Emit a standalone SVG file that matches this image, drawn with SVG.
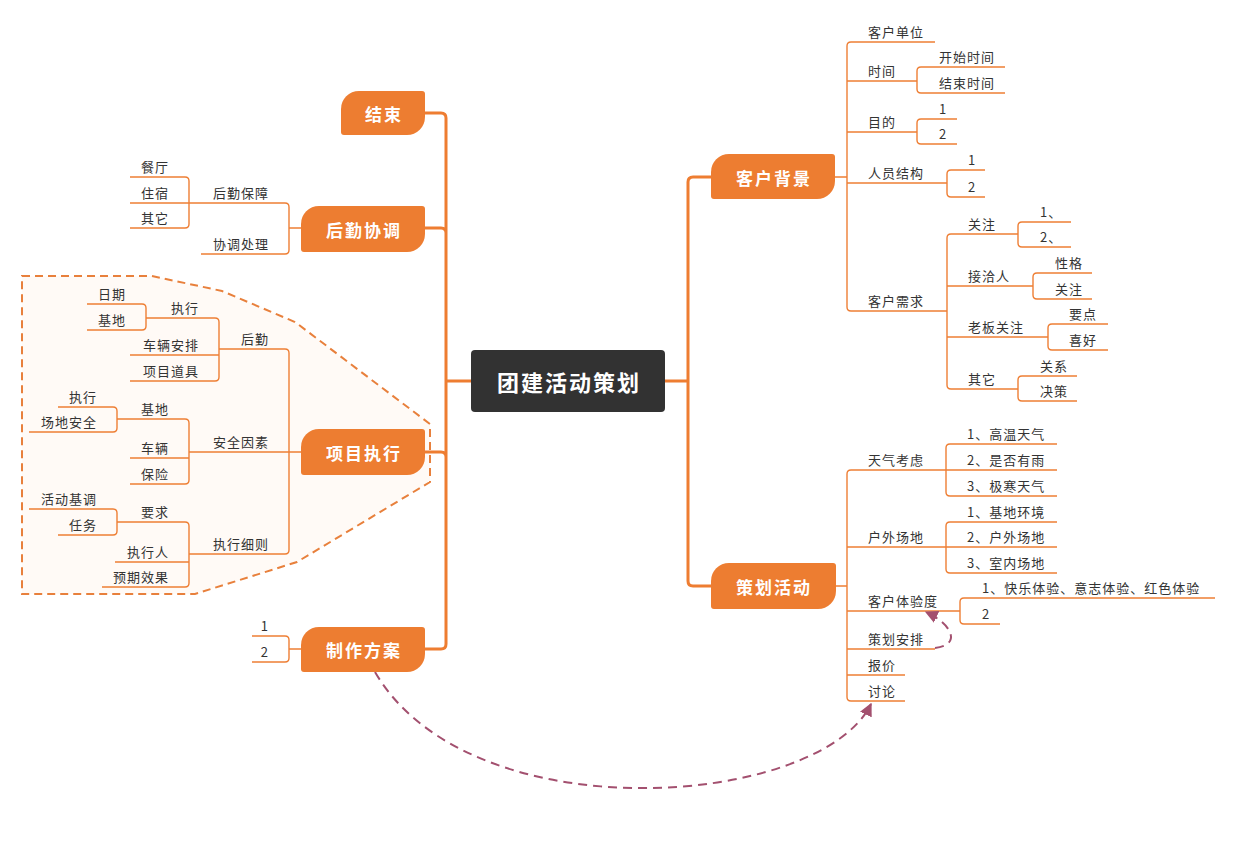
<svg xmlns="http://www.w3.org/2000/svg" width="1235" height="855" viewBox="0 0 1235 855">
<style>
.t{font-family:"Noto Sans CJK SC","Noto Sans",sans-serif;font-size:13px;fill:#333;letter-spacing:1px}
.e{text-anchor:end}
.nt{font-family:"Noto Sans CJK SC","Noto Sans",sans-serif;font-size:17px;font-weight:bold;fill:#fff;text-anchor:middle;letter-spacing:2px;dominant-baseline:central}
.ct{font-size:22px;letter-spacing:2px}
.node{fill:#ED7D31}
.ln{fill:none;stroke:#EE7F35;stroke-width:1.4}
.tr{fill:none;stroke:#EE7D31;stroke-width:3}
.rel{fill:none;stroke:#A3506F;stroke-width:2;stroke-dasharray:9 6}
</style>
<defs>
<marker id="ah" viewBox="0 0 10 10" refX="9" refY="5" markerWidth="13" markerHeight="13" markerUnits="userSpaceOnUse" orient="auto">
<path d="M0,0 L10,5 L0,10 z" fill="#A3506F"/>
</marker>
</defs>
<rect width="1235" height="855" fill="#fff"/>
<polygon id="boundary" points="22,276 152,276 222,291 295,322 430,424 430,482 297,562 195,594 22,594" fill="#FFFAF6" stroke="#E8803C" stroke-width="2" stroke-dasharray="8 5"/>
<g id="connectors">
<path class="tr" d="M425,113 H441 Q446,113 446,118 V644 Q446,649 441,649 H425 M425,228 H441 Q446,228 446,233 M425,452 H441 Q446,452 446,457 M471,381 H446"/>
<path class="tr" d="M711,177 H693 Q688,177 688,182 V581 Q688,586 693,586 H711 M665,381 H688"/>
<path class="ln" d="M935,42 H851 Q847,42 847,46 V307 Q847,311 851,311 H947 M847,81 H917 M847,132 H917 M847,183 H947 M835,177 H847"/>
<path class="ln" d="M1005,67 H921 Q917,67 917,71 V89 Q917,93 921,93 H1005"/>
<path class="ln" d="M957,119 H921 Q917,119 917,123 V140 Q917,144 921,144 H957"/>
<path class="ln" d="M985,170 H951 Q947,170 947,174 V193 Q947,197 951,197 H985"/>
<path class="ln" d="M1018,234 H951 Q947,234 947,238 V385 Q947,389 951,389 H1018 M947,286 H1033 M947,337 H1048"/>
<path class="ln" d="M1071,222 H1022 Q1018,222 1018,226 V243 Q1018,247 1022,247 H1071"/>
<path class="ln" d="M1092,273 H1037 Q1033,273 1033,277 V295 Q1033,299 1037,299 H1092"/>
<path class="ln" d="M1108,324 H1052 Q1048,324 1048,328 V346 Q1048,350 1052,350 H1108"/>
<path class="ln" d="M1077,376 H1022 Q1018,376 1018,380 V397 Q1018,401 1022,401 H1077"/>
<path class="ln" d="M946,470 H851 Q847,470 847,474 V697 Q847,701 851,701 H905 M847,547 H946 M847,611 H960 M847,649 H935 M847,675 H905 M836,586 H847"/>
<path class="ln" d="M1057,444 H950 Q946,444 946,448 V492 Q946,496 950,496 H1057 M946,470 H1057"/>
<path class="ln" d="M1057,522 H950 Q946,522 946,526 V569 Q946,573 950,573 H1057 M946,547 H1057"/>
<path class="ln" d="M1215,598 H964 Q960,598 960,602 V620 Q960,624 964,624 H1000"/>
<path class="ln" d="M189,203 H285 Q289,203 289,207 V250 Q289,254 285,254 H201 M301,228 H289"/>
<path class="ln" d="M130,177 H185 Q189,177 189,181 V224 Q189,228 185,228 H130 M130,203 H189"/>
<path class="ln" d="M219,349 H285 Q289,349 289,353 V550 Q289,554 285,554 H189 M189,452 H301"/>
<path class="ln" d="M146,318 H215 Q219,318 219,322 V377 Q219,381 215,381 H130 M130,355 H219"/>
<path class="ln" d="M87,304 H142 Q146,304 146,308 V326 Q146,330 142,330 H87"/>
<path class="ln" d="M117,419 H185 Q189,419 189,423 V480 Q189,484 185,484 H130 M130,458 H189"/>
<path class="ln" d="M58,407 H113 Q117,407 117,411 V428 Q117,432 113,432 H29"/>
<path class="ln" d="M117,522 H185 Q189,522 189,526 V583 Q189,587 185,587 H102 M115,562 H189"/>
<path class="ln" d="M29,509 H113 Q117,509 117,513 V531 Q117,535 113,535 H58"/>
<path class="ln" d="M252,636 H285 Q289,636 289,640 V658 Q289,662 285,662 H252 M289,649 H301"/>
<path class="rel" d="M935,648 C962,645 952,624 926,612" marker-end="url(#ah)"/>
<path class="rel" d="M375,672 C470,835 820,808 871,704" marker-end="url(#ah)"/>
</g>
<g id="center"><rect x="471" y="350" width="194" height="62" rx="4" fill="#323232"/><text class="nt ct" x="569" y="381">团建活动策划</text></g>
<g id="jieshu"><path class="node" d="M359,91 H422 A3 3 0 0 1 425,94 V117 A18 18 0 0 1 407,135 H344 A3 3 0 0 1 341,132 V109 A18 18 0 0 1 359,91 Z"/><text class="nt" x="384" y="113">结束</text></g>
<g id="houqinxietiao"><path class="node" d="M319,206 H422 A3 3 0 0 1 425,209 V234 A18 18 0 0 1 407,252 H304 A3 3 0 0 1 301,249 V224 A18 18 0 0 1 319,206 Z"/><text class="nt" x="364" y="229">后勤协调</text></g>
<g id="xiangmuzhixing"><path class="node" d="M319,429 H422 A3 3 0 0 1 425,432 V457 A18 18 0 0 1 407,475 H304 A3 3 0 0 1 301,472 V447 A18 18 0 0 1 319,429 Z"/><text class="nt" x="364" y="452">项目执行</text></g>
<g id="zhizuofangan"><path class="node" d="M319,627 H422 A3 3 0 0 1 425,630 V654 A18 18 0 0 1 407,672 H304 A3 3 0 0 1 301,669 V645 A18 18 0 0 1 319,627 Z"/><text class="nt" x="364" y="649">制作方案</text></g>
<g id="kehubeijing"><path class="node" d="M729,154 H832 A3 3 0 0 1 835,157 V181 A18 18 0 0 1 817,199 H714 A3 3 0 0 1 711,196 V172 A18 18 0 0 1 729,154 Z"/><text class="nt" x="774" y="177">客户背景</text></g>
<g id="cehuahuodong"><path class="node" d="M729,563 H833 A3 3 0 0 1 836,566 V591 A18 18 0 0 1 818,609 H714 A3 3 0 0 1 711,606 V581 A18 18 0 0 1 729,563 Z"/><text class="nt" x="774" y="586">策划活动</text></g>
<g id="right-topics">
<g id="r1"><text class="t" x="868" y="37">客户单位</text></g>
<g id="r2"><text class="t" x="868" y="76">时间</text></g>
<g id="r3"><text class="t" x="939" y="62">开始时间</text></g>
<g id="r4"><text class="t" x="939" y="88">结束时间</text></g>
<g id="r5"><text class="t" x="868" y="127">目的</text></g>
<g id="r6"><text class="t" x="939" y="114">1</text></g>
<g id="r7"><text class="t" x="939" y="139">2</text></g>
<g id="r8"><text class="t" x="868" y="178">人员结构</text></g>
<g id="r9"><text class="t" x="968" y="165">1</text></g>
<g id="r10"><text class="t" x="968" y="192">2</text></g>
<g id="r11"><text class="t" x="868" y="306">客户需求</text></g>
<g id="r12"><text class="t" x="968" y="229">关注</text></g>
<g id="r13"><text class="t" x="1040" y="217">1、</text></g>
<g id="r14"><text class="t" x="1040" y="242">2、</text></g>
<g id="r15"><text class="t" x="968" y="281">接洽人</text></g>
<g id="r16"><text class="t" x="1055" y="268">性格</text></g>
<g id="r17"><text class="t" x="1055" y="294">关注</text></g>
<g id="r18"><text class="t" x="968" y="332">老板关注</text></g>
<g id="r19"><text class="t" x="1069" y="319">要点</text></g>
<g id="r20"><text class="t" x="1069" y="345">喜好</text></g>
<g id="r21"><text class="t" x="968" y="384">其它</text></g>
<g id="r22"><text class="t" x="1040" y="371">关系</text></g>
<g id="r23"><text class="t" x="1040" y="396">决策</text></g>
<g id="r24"><text class="t" x="868" y="465">天气考虑</text></g>
<g id="r25"><text class="t" x="967" y="439">1、高温天气</text></g>
<g id="r26"><text class="t" x="967" y="465">2、是否有雨</text></g>
<g id="r27"><text class="t" x="967" y="491">3、极寒天气</text></g>
<g id="r28"><text class="t" x="868" y="542">户外场地</text></g>
<g id="r29"><text class="t" x="967" y="517">1、基地环境</text></g>
<g id="r30"><text class="t" x="967" y="542">2、户外场地</text></g>
<g id="r31"><text class="t" x="967" y="568">3、室内场地</text></g>
<g id="r32"><text class="t" x="868" y="606">客户体验度</text></g>
<g id="r33"><text class="t" x="982" y="593">1、快乐体验、意志体验、红色体验</text></g>
<g id="r34"><text class="t" x="982" y="619">2</text></g>
<g id="r35"><text class="t" x="868" y="644">策划安排</text></g>
<g id="r36"><text class="t" x="868" y="670">报价</text></g>
<g id="r37"><text class="t" x="868" y="696">讨论</text></g>
</g>
<g id="left-topics">
<g id="l1"><text class="t e" x="269" y="198">后勤保障</text></g>
<g id="l2"><text class="t e" x="269" y="249">协调处理</text></g>
<g id="l3"><text class="t e" x="169" y="172">餐厅</text></g>
<g id="l4"><text class="t e" x="169" y="198">住宿</text></g>
<g id="l5"><text class="t e" x="169" y="223">其它</text></g>
<g id="l6"><text class="t e" x="269" y="344">后勤</text></g>
<g id="l7"><text class="t e" x="269" y="447">安全因素</text></g>
<g id="l8"><text class="t e" x="269" y="549">执行细则</text></g>
<g id="l9"><text class="t e" x="199" y="313">执行</text></g>
<g id="l10"><text class="t e" x="199" y="350">车辆安排</text></g>
<g id="l11"><text class="t e" x="199" y="376">项目道具</text></g>
<g id="l12"><text class="t e" x="126" y="299">日期</text></g>
<g id="l13"><text class="t e" x="126" y="325">基地</text></g>
<g id="l14"><text class="t e" x="169" y="414">基地</text></g>
<g id="l15"><text class="t e" x="169" y="453">车辆</text></g>
<g id="l16"><text class="t e" x="169" y="479">保险</text></g>
<g id="l17"><text class="t e" x="97" y="402">执行</text></g>
<g id="l18"><text class="t e" x="97" y="427">场地安全</text></g>
<g id="l19"><text class="t e" x="169" y="517">要求</text></g>
<g id="l20"><text class="t e" x="169" y="557">执行人</text></g>
<g id="l21"><text class="t e" x="169" y="582">预期效果</text></g>
<g id="l22"><text class="t e" x="97" y="504">活动基调</text></g>
<g id="l23"><text class="t e" x="97" y="530">任务</text></g>
<g id="l24"><text class="t e" x="269" y="631">1</text></g>
<g id="l25"><text class="t e" x="269" y="657">2</text></g>
</g>
</svg>
